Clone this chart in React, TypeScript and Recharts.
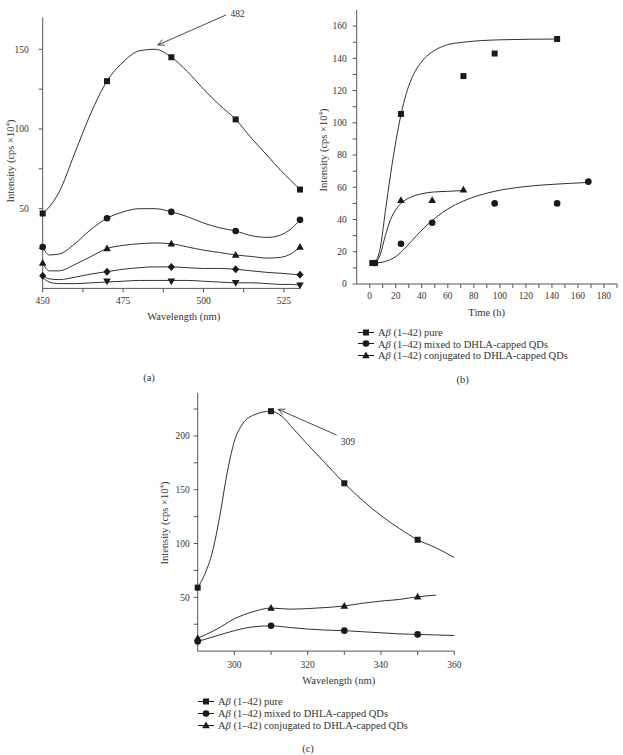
import React from "react";
import { ComposedChart, Line, Scatter, XAxis, YAxis, ReferenceLine } from "recharts";

const SERIF = '"Liberation Serif", "DejaVu Serif", serif';
const INK = "#1a1a1a";
const AXIS = "#555";
const LABEL = "#333";

// ---- panel (a): emission spectra, five samples ----
const aMarkX = [450, 470, 490, 510, 530];
const aSquare = [47, 130, 145, 106, 62];
const aCircle = [26, 44, 48, 36, 43];
const aTriangle = [16, 25, 28, 21, 26];
const aDiamond = [8, 10.5, 13.5, 12, 8.5];
const aDownX = [470, 490, 510, 530];
const aDown = [4.5, 4.5, 3.5, 2];

const aCurveX = [450, 452, 455, 460, 465, 470, 475, 480, 485, 490, 495, 500, 505, 510, 515, 520, 524, 527, 530];
const aSquareCurve = [47, 51, 60, 85, 110, 130, 142, 149, 150, 145, 136, 125, 115, 106, 94, 83, 74, 68, 62];
const aCircleCurve = [26, 21, 21.5, 28, 37, 44, 48, 50, 50, 48, 45, 41, 38, 36, 33, 32, 33.5, 37, 43];
const aTriangleCurve = [16, 11, 11, 15, 20, 25, 27, 28, 28.5, 28, 26, 24, 22.5, 21, 20, 19, 19.5, 21.5, 26];
const aDiamondCurve = [8, 6, 5.5, 7, 9, 10.5, 12, 13, 13.5, 13.5, 13, 12.5, 12.5, 12, 11, 10, 9.5, 9, 8.5];
const aDownCurve = [7, 4, 3, 3, 3.5, 4, 4.5, 5, 5, 5, 5, 4.5, 4, 3.5, 3.5, 3, 2.5, 2.5, 2];

const aXTicks = [450, 462.5, 475, 487.5, 500, 512.5, 525];
const aXLabels = [450, 475, 500, 525];
const aYTicks = [25, 50, 75, 100, 125, 150];
const aYLabels = [50, 100, 150];

// ---- panel (b): kinetics ----
const bPureX = [2, 4, 24, 72, 96, 144];
const bPure = [13, 13, 105.5, 129, 143, 152];
const bMixedX = [4, 24, 48, 96, 144, 168];
const bMixed = [13, 25, 38, 50, 50, 63.5];
const bConjX = [24, 48, 72];
const bConj = [52, 52, 58.5];

const bPureFitX = [4, 8, 12, 16, 20, 24, 28, 32, 40, 50, 60, 72, 100, 144];
const bPureFit = [13, 22, 45, 68, 88, 105, 118, 127, 138, 145, 148.5, 150, 151.5, 152];
const bConjFitX = [4, 8, 12, 16, 20, 24, 32, 40, 48, 60, 72];
const bConjFit = [13, 18, 30, 40, 46, 50, 54, 56, 57, 57.5, 58];
const bMixedFitX = [4, 12, 20, 28, 36, 44, 52, 60, 72, 84, 96, 120, 144, 168];
const bMixedFit = [13, 14, 17, 23, 30, 36.5, 42, 46.5, 51.5, 55, 57.5, 60.5, 62, 63];

const bXTicks = [0, 10, 20, 30, 40, 50, 60, 70, 80, 90, 100, 110, 120, 130, 140, 150, 160, 170, 180, 190];
const bXLabels = [0, 20, 40, 60, 80, 100, 120, 140, 160, 180];
const bYTicks = [0, 10, 20, 30, 40, 50, 60, 70, 80, 90, 100, 110, 120, 130, 140, 150, 160];
const bYLabels = [0, 20, 40, 60, 80, 100, 120, 140, 160];

// ---- panel (c): spectra of the three samples ----
const cMarkX = [290, 310, 330, 350];
const cPure = [59, 223, 156, 103.5];
const cMixed = [9, 23.5, 19, 15.5];
const cConj = [12, 40, 42, 50.5];

const cPureFitX = [290, 292, 294, 296, 298, 300, 302, 305, 310, 313, 316, 320, 325, 330, 335, 340, 345, 350, 355, 360];
const cPureFit = [59, 72, 92, 125, 165, 195, 210, 219, 223, 218, 207, 192, 174, 156, 140, 126, 114, 103.5, 96, 87];
const cConjFitX = [290, 295, 300, 305, 310, 315, 320, 325, 330, 335, 340, 345, 350, 355];
const cConjFit = [12, 20, 30, 36.5, 40, 39, 39.5, 40.5, 42, 44.5, 46.5, 48, 50.5, 52];
const cMixedFitX = [290, 295, 300, 305, 310, 315, 320, 325, 330, 335, 340, 345, 350, 355, 360];
const cMixedFit = [9, 14, 19, 22.5, 23.5, 22, 20.5, 19.5, 19, 18, 17, 16, 15.5, 15, 14.5];

const cXTicks = [300, 310, 320, 330, 340, 350, 360];
const cXLabels = [300, 320, 340, 360];
const cYTicks = [25, 50, 75, 100, 125, 150, 175, 200, 225];
const cYLabels = [50, 100, 150, 200];

const legendNames = ["pure", "mixed to DHLA-capped QDs", "conjugated to DHLA-capped QDs"];

type Pt = { x: number; y: number };
const toPts = (xs: number[], ys: number[]): Pt[] => xs.map((x, i) => ({ x, y: ys[i] }));
const fmt = (labels: number[]) => (v: number) => (labels.includes(v) ? String(v) : "");

// marker shapes
const Square = (p: any) => <rect x={p.cx - 3} y={p.cy - 3} width={6} height={6} fill={INK} />;
const Dot = (p: any) => <circle cx={p.cx} cy={p.cy} r={3.3} fill={INK} />;
const Tri = (p: any) => (
  <path d={`M${p.cx},${p.cy - 4}L${p.cx + 3.8},${p.cy + 2.8}L${p.cx - 3.8},${p.cy + 2.8}Z`} fill={INK} />
);
const Diamond = (p: any) => (
  <path d={`M${p.cx},${p.cy - 4}L${p.cx + 3.6},${p.cy}L${p.cx},${p.cy + 4}L${p.cx - 3.6},${p.cy}Z`} fill={INK} />
);
const DownTri = (p: any) => (
  <path d={`M${p.cx},${p.cy + 4}L${p.cx + 3.8},${p.cy - 2.8}L${p.cx - 3.8},${p.cy - 2.8}Z`} fill={INK} />
);

// annotation arrow: segment goes tail -> head
const arrowShape = (text: string, dx: number, dy: number) => (p: any) => {
  const { x1, y1, x2, y2 } = p;
  const a = Math.atan2(y1 - y2, x1 - x2);
  const len = 7;
  return (
    <g>
      <line x1={x1} y1={y1} x2={x2} y2={y2} stroke={INK} strokeWidth={0.8} />
      <line x1={x2} y1={y2} x2={x2 + len * Math.cos(a + 0.45)} y2={y2 + len * Math.sin(a + 0.45)} stroke={INK} strokeWidth={0.8} />
      <line x1={x2} y1={y2} x2={x2 + len * Math.cos(a - 0.45)} y2={y2 + len * Math.sin(a - 0.45)} stroke={INK} strokeWidth={0.8} />
      <text x={x1 + dx} y={y1 + dy} fontSize={9.5} fontFamily={SERIF} fill={LABEL}>
        {text}
      </text>
    </g>
  );
};

const tickStyle = { fontSize: 9.5, fill: LABEL, fontFamily: SERIF };

const curve = (key: string, data: Pt[]) => (
  <Line
    key={key}
    data={data}
    dataKey="y"
    type="monotone"
    stroke={INK}
    strokeWidth={0.9}
    dot={false}
    isAnimationActive={false}
  />
);

const marks = (key: string, data: Pt[], shape: any) => (
  <Scatter key={key} data={data} dataKey="y" shape={shape} isAnimationActive={false} />
);

const abs = (left: number, top: number): React.CSSProperties => ({
  position: "absolute",
  left,
  top,
  whiteSpace: "nowrap",
  fontFamily: SERIF,
  color: LABEL,
});

function YTitle({ x, y }: { x: number; y: number }) {
  return (
    <div style={{ ...abs(x, y), fontSize: 10.5, transform: "translate(-50%, -50%) rotate(-90deg)" }}>
      Intensity (cps ×10<sup style={{ fontSize: 7 }}>4</sup>)
    </div>
  );
}

function Centered({ x, y, size, children }: { x: number; y: number; size: number; children: React.ReactNode }) {
  return <div style={{ ...abs(x, y), fontSize: size, transform: "translate(-50%, -50%)" }}>{children}</div>;
}

const legendShapes = [Square, Dot, Tri];

function SeriesLegend({ x, y, gap }: { x: number; y: number; gap: number }) {
  return (
    <>
      {legendNames.map((name, i) => {
        const Shape = legendShapes[i];
        return (
          <div key={name} style={{ ...abs(x, y + i * gap), fontSize: 10.5, display: "flex", alignItems: "center", transform: "translateY(-50%)" }}>
            <svg width={16} height={10} style={{ marginRight: 4 }}>
              <line x1={0} y1={5} x2={16} y2={5} stroke={INK} strokeWidth={1} />
              <Shape cx={8} cy={5} />
            </svg>
            <span>
              A<i>β</i> (1–42) {name}
            </span>
          </div>
        );
      })}
    </>
  );
}

function PanelA() {
  return (
    <div style={{ position: "absolute", left: 0, top: 0 }}>
      <ComposedChart width={310} height={330} margin={{ top: 17.4, right: 10, bottom: 21.6, left: 2.7 }}>
        <XAxis
          type="number"
          dataKey="x"
          domain={[450, 530]}
          ticks={aXTicks}
          tickFormatter={fmt(aXLabels)}
          interval={0}
          height={20}
          tickSize={4}
          tickMargin={5}
          stroke={AXIS}
          tick={tickStyle}
        />
        <YAxis
          type="number"
          dataKey="y"
          domain={[0, 170]}
          ticks={aYTicks}
          tickFormatter={fmt(aYLabels)}
          interval={0}
          width={40}
          tickSize={4}
          tickMargin={10}
          stroke={AXIS}
          tick={tickStyle}
        />
        {curve("sq", toPts(aCurveX, aSquareCurve))}
        {curve("ci", toPts(aCurveX, aCircleCurve))}
        {curve("tr", toPts(aCurveX, aTriangleCurve))}
        {curve("di", toPts(aCurveX, aDiamondCurve))}
        {curve("dn", toPts(aCurveX, aDownCurve))}
        {marks("msq", toPts(aMarkX, aSquare), Square)}
        {marks("mci", toPts(aMarkX, aCircle), Dot)}
        {marks("mtr", toPts(aMarkX, aTriangle), Tri)}
        {marks("mdi", toPts(aMarkX, aDiamond), Diamond)}
        {marks("mdn", toPts(aDownX, aDown), DownTri)}
        <ReferenceLine
          segment={[{ x: 507, y: 171.5 }, { x: 485.8, y: 152.7 }]}
          ifOverflow="visible"
          shape={arrowShape("482", 4.5, 1.8)}
        />
      </ComposedChart>
    </div>
  );
}

function PanelB() {
  return (
    <div style={{ position: "absolute", left: 300, top: 0 }}>
      <ComposedChart width={323} height={330} margin={{ top: 10, right: 6, bottom: 26, left: 16.7 }}>
        <XAxis
          type="number"
          dataKey="x"
          domain={[-10, 190]}
          ticks={bXTicks}
          tickFormatter={fmt(bXLabels)}
          interval={0}
          height={20}
          tickSize={4}
          tickMargin={4}
          stroke={AXIS}
          tick={tickStyle}
        />
        <YAxis
          type="number"
          dataKey="y"
          domain={[0, 170]}
          ticks={bYTicks}
          tickFormatter={fmt(bYLabels)}
          interval={0}
          width={40}
          tickSize={4}
          tickMargin={6}
          stroke={AXIS}
          tick={tickStyle}
        />
        {curve("pf", toPts(bPureFitX, bPureFit))}
        {curve("cf", toPts(bConjFitX, bConjFit))}
        {curve("mf", toPts(bMixedFitX, bMixedFit))}
        {marks("mp", toPts(bPureX, bPure), Square)}
        {marks("mm", toPts(bMixedX, bMixed), Dot)}
        {marks("mc", toPts(bConjX, bConj), Tri)}
      </ComposedChart>
    </div>
  );
}

function PanelC() {
  return (
    <div style={{ position: "absolute", left: 150, top: 380 }}>
      <ComposedChart width={320} height={310} margin={{ top: 12.9, right: 15.7, bottom: 18.9, left: 7.7 }}>
        <XAxis
          type="number"
          dataKey="x"
          domain={[290, 360]}
          ticks={cXTicks}
          tickFormatter={fmt(cXLabels)}
          interval={0}
          height={20}
          tickSize={4}
          tickMargin={6}
          stroke={AXIS}
          tick={tickStyle}
        />
        <YAxis
          type="number"
          dataKey="y"
          domain={[0, 240]}
          ticks={cYTicks}
          tickFormatter={fmt(cYLabels)}
          interval={0}
          width={40}
          tickSize={4}
          tickMargin={4}
          stroke={AXIS}
          tick={tickStyle}
        />
        {curve("pf", toPts(cPureFitX, cPureFit))}
        {curve("cf", toPts(cConjFitX, cConjFit))}
        {curve("mf", toPts(cMixedFitX, cMixedFit))}
        {marks("mp", toPts(cMarkX, cPure), Square)}
        {marks("mm", toPts(cMarkX, cMixed), Dot)}
        {marks("mc", toPts(cMarkX, cConj), Tri)}
        <ReferenceLine
          segment={[{ x: 327.9, y: 200.8 }, { x: 312, y: 224.7 }]}
          ifOverflow="visible"
          shape={arrowShape("309", 4, 9.7)}
        />
      </ComposedChart>
    </div>
  );
}

export default function App() {
  return (
    <div style={{ position: "absolute", left: 0, top: 0, width: 623, height: 755, background: "#fff", overflow: "hidden" }}>
      <PanelA />
      <PanelB />
      <PanelC />

      <YTitle x={9.5} y={161} />
      <YTitle x={322.7} y={150} />
      <YTitle x={164} y={523} />

      <Centered x={183.7} y={316} size={10.5}>Wavelength (nm)</Centered>
      <Centered x={486.7} y={312.3} size={10.5}>Time (h)</Centered>
      <Centered x={338.7} y={680} size={10.5}>Wavelength (nm)</Centered>

      <SeriesLegend x={358} y={332} gap={11.5} />
      <SeriesLegend x={198} y={701} gap={12} />

      <Centered x={149} y={377} size={10.5}>(a)</Centered>
      <Centered x={462.7} y={379} size={10.5}>(b)</Centered>
      <Centered x={308} y={747.7} size={10.5}>(c)</Centered>
    </div>
  );
}
